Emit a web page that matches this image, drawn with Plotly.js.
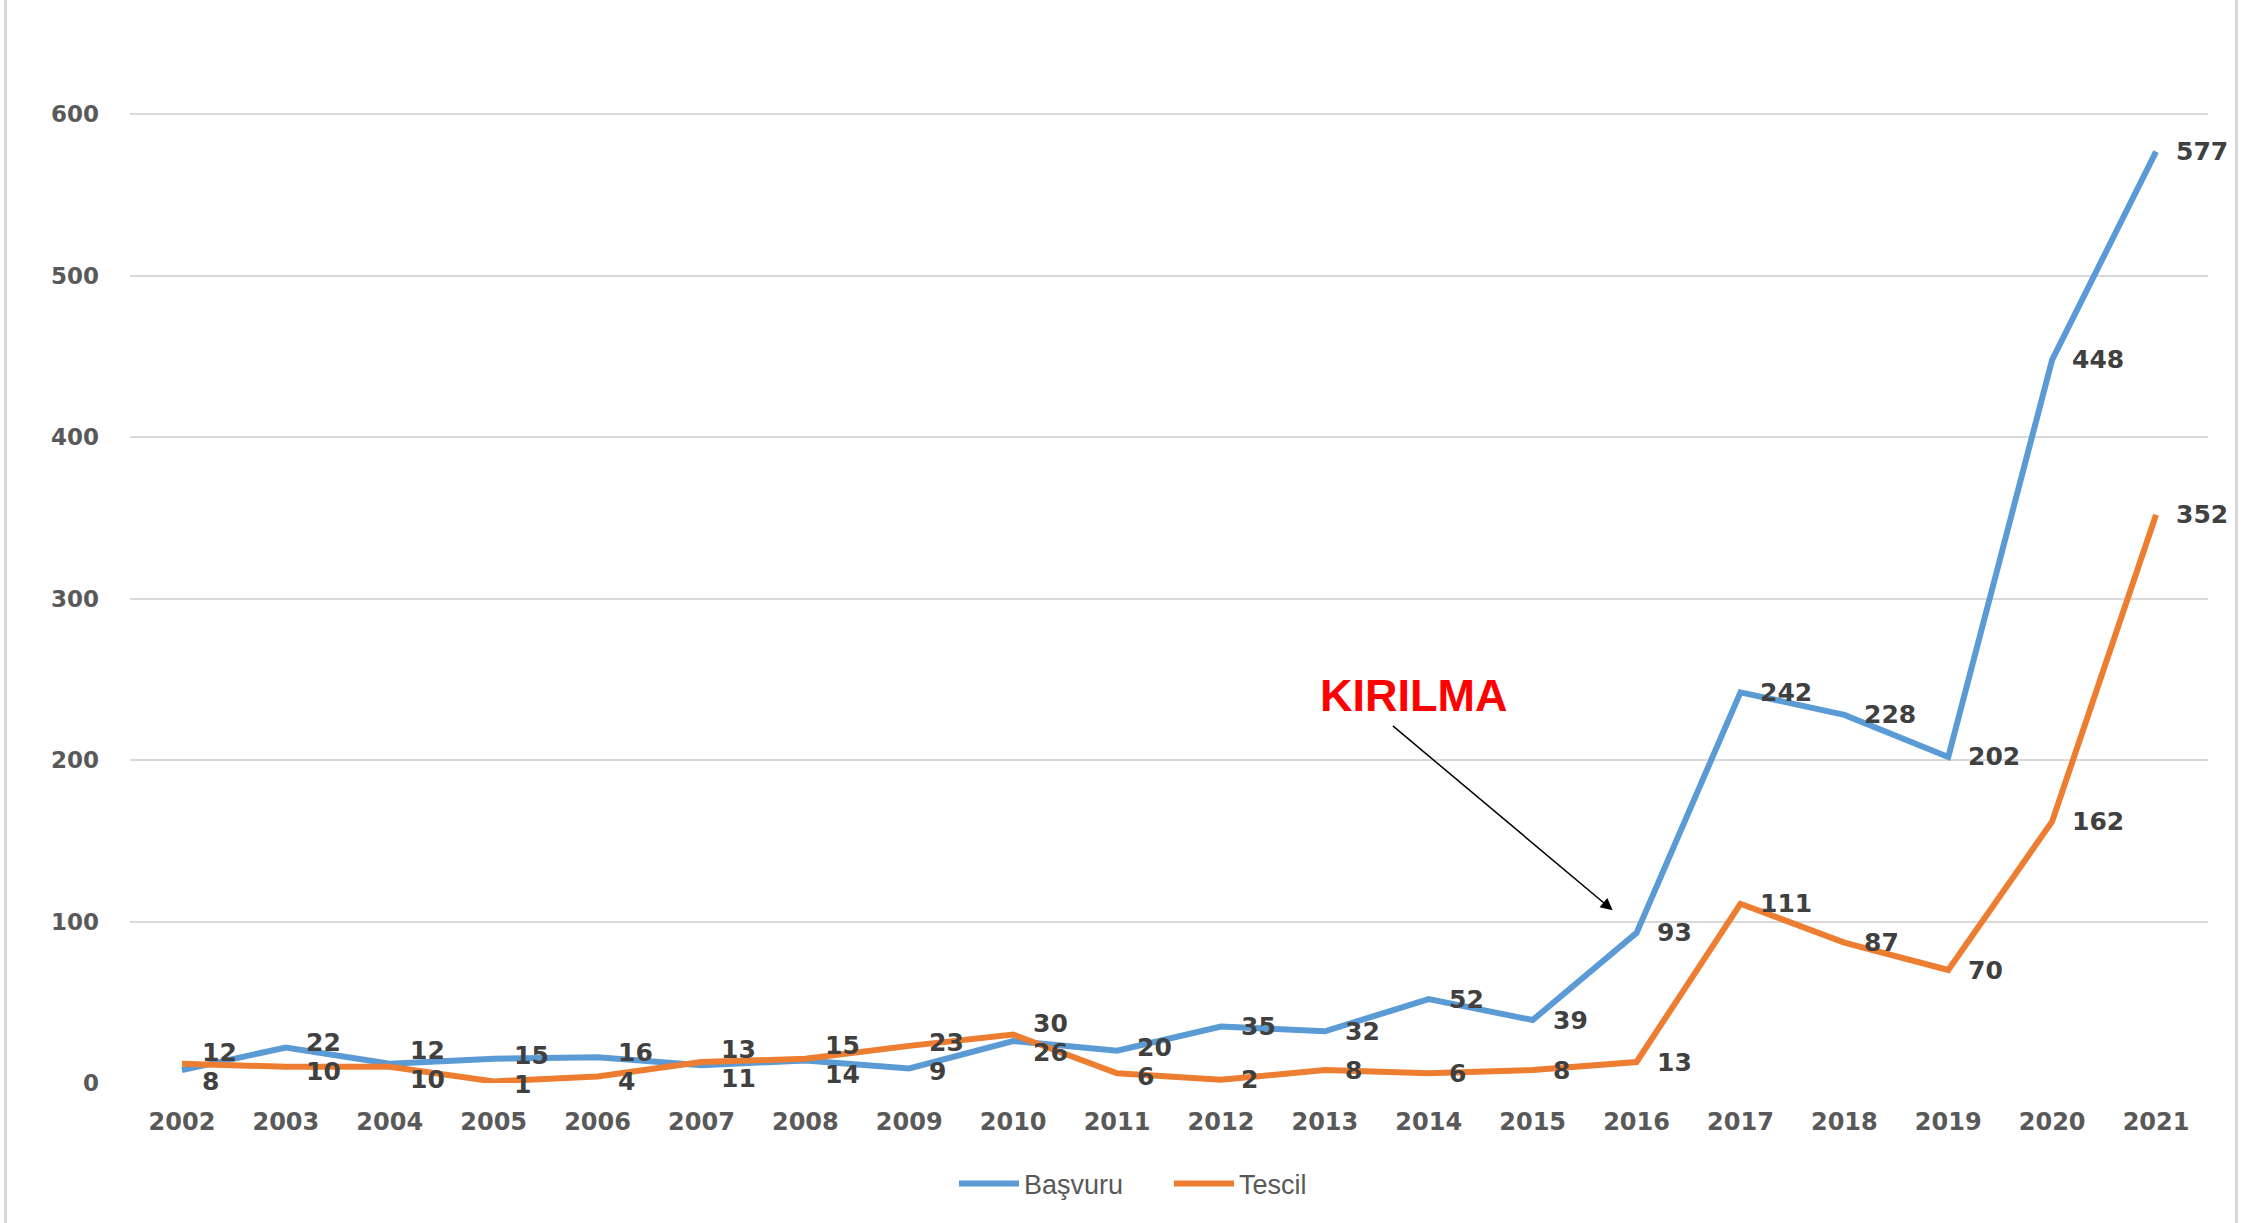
<!DOCTYPE html>
<html>
<head>
<meta charset="utf-8">
<script src="https://cdn.plot.ly/plotly-3.0.1.min.js"></script>
<style>
  html, body { margin: 0; padding: 0; background: #ffffff; }
  #chart { width: 2258px; height: 1223px; }
  #frame { position: absolute; left: 4px; top: -3px; width: 2228px; height: 1232px;
           border: 3px solid #d9d9d9; pointer-events: none; }
</style>
</head>
<body>
<div id="chart"></div>
<div id="frame"></div>
<script>
const years = ["2002","2003","2004","2005","2006","2007","2008","2009","2010","2011",
               "2012","2013","2014","2015","2016","2017","2018","2019","2020","2021"];
const basvuru = [8, 22, 12, 15, 16, 11, 14, 9, 26, 20, 35, 32, 52, 39, 93, 242, 228, 202, 448, 577];
const tescil  = [12, 10, 10, 1, 4, 13, 15, 23, 30, 6, 2, 8, 6, 8, 13, 111, 87, 70, 162, 352];
const yTicks = [0, 100, 200, 300, 400, 500, 600];
const seriesNames = ["Başvuru", "Tescil"];
const annotationText = "KIRILMA";

const blue = "#5B9BD5", orange = "#ED7D31";
const labelFont = {family: "DejaVu Sans", size: 25, color: "#404040", weight: "bold"};

const traces = [
  {x: years, y: basvuru, name: seriesNames[0], type: "scatter", mode: "lines",
   line: {color: blue, width: 6}},
  {x: years, y: tescil, name: seriesNames[1], type: "scatter", mode: "lines",
   line: {color: orange, width: 6}}
];

// plot height 999px for 601.5 units
const pxPerUnit = 999 / 601.5;
const minGap = 29;
const annotations = [];
[basvuru, tescil].forEach(function(series, s) {
  const other = s === 0 ? tescil : basvuru;
  series.forEach(function(v, i) {
    // when the two labels of a year would sit on top of each other, nudge them apart
    let dy = 0;
    const o = other[i];
    const sep = Math.abs(v - o) * pxPerUnit;
    if (sep < minGap) {
      const half = (minGap - sep) / 2;
      dy = (v > o || (v === o && s === 0)) ? half : -half;
    }
    annotations.push({x: i, y: v, xref: "x", yref: "y", text: String(v),
      showarrow: false, xanchor: "left", yanchor: "middle", xshift: 18, yshift: dy,
      font: labelFont});
  });
});
// KIRILMA text and arrow
annotations.push({x: 11.85, y: 240, xref: "x", yref: "y", text: "<b>" + annotationText + "</b>",
  showarrow: false, xanchor: "center", yanchor: "middle",
  font: {family: "Liberation Sans", size: 45, color: "#ff0000"}});
annotations.push({x: 13.77, y: 107, ax: 11.64, ay: 222, xref: "x", yref: "y",
  axref: "x", ayref: "y", text: "", showarrow: true, arrowhead: 2, arrowsize: 1.6,
  arrowwidth: 1.5, arrowcolor: "#000000"});

const layout = {
  width: 2258, height: 1223,
  margin: {l: 130, r: 50, t: 112, b: 140},
  paper_bgcolor: "#ffffff", plot_bgcolor: "#ffffff",
  showlegend: true,
  legend: {orientation: "h", x: 0.5, xanchor: "center", y: -0.104, yanchor: "middle",
           font: {family: "Liberation Sans", size: 27, color: "#595959"},
           entrywidth: 140, itemwidth: 60},
  xaxis: {type: "category", range: [-0.5, 19.5], showgrid: false, zeroline: false,
          showline: false, ticks: "",
          tickfont: {family: "DejaVu Sans", size: 24, color: "#595959", weight: "bold"},
          ticklabelstandoff: 22},
  yaxis: {range: [0, 601.5], tickvals: yTicks, showgrid: true, gridcolor: "#d9d9d9",
          gridwidth: 2, zeroline: false, showline: false, ticks: "",
          tickfont: {family: "DejaVu Sans", size: 23, color: "#595959", weight: "bold"},
          ticklabelstandoff: 30},
  annotations: annotations
};

Plotly.newPlot("chart", traces, layout, {displayModeBar: false, staticPlot: true});
</script>
</body>
</html>
